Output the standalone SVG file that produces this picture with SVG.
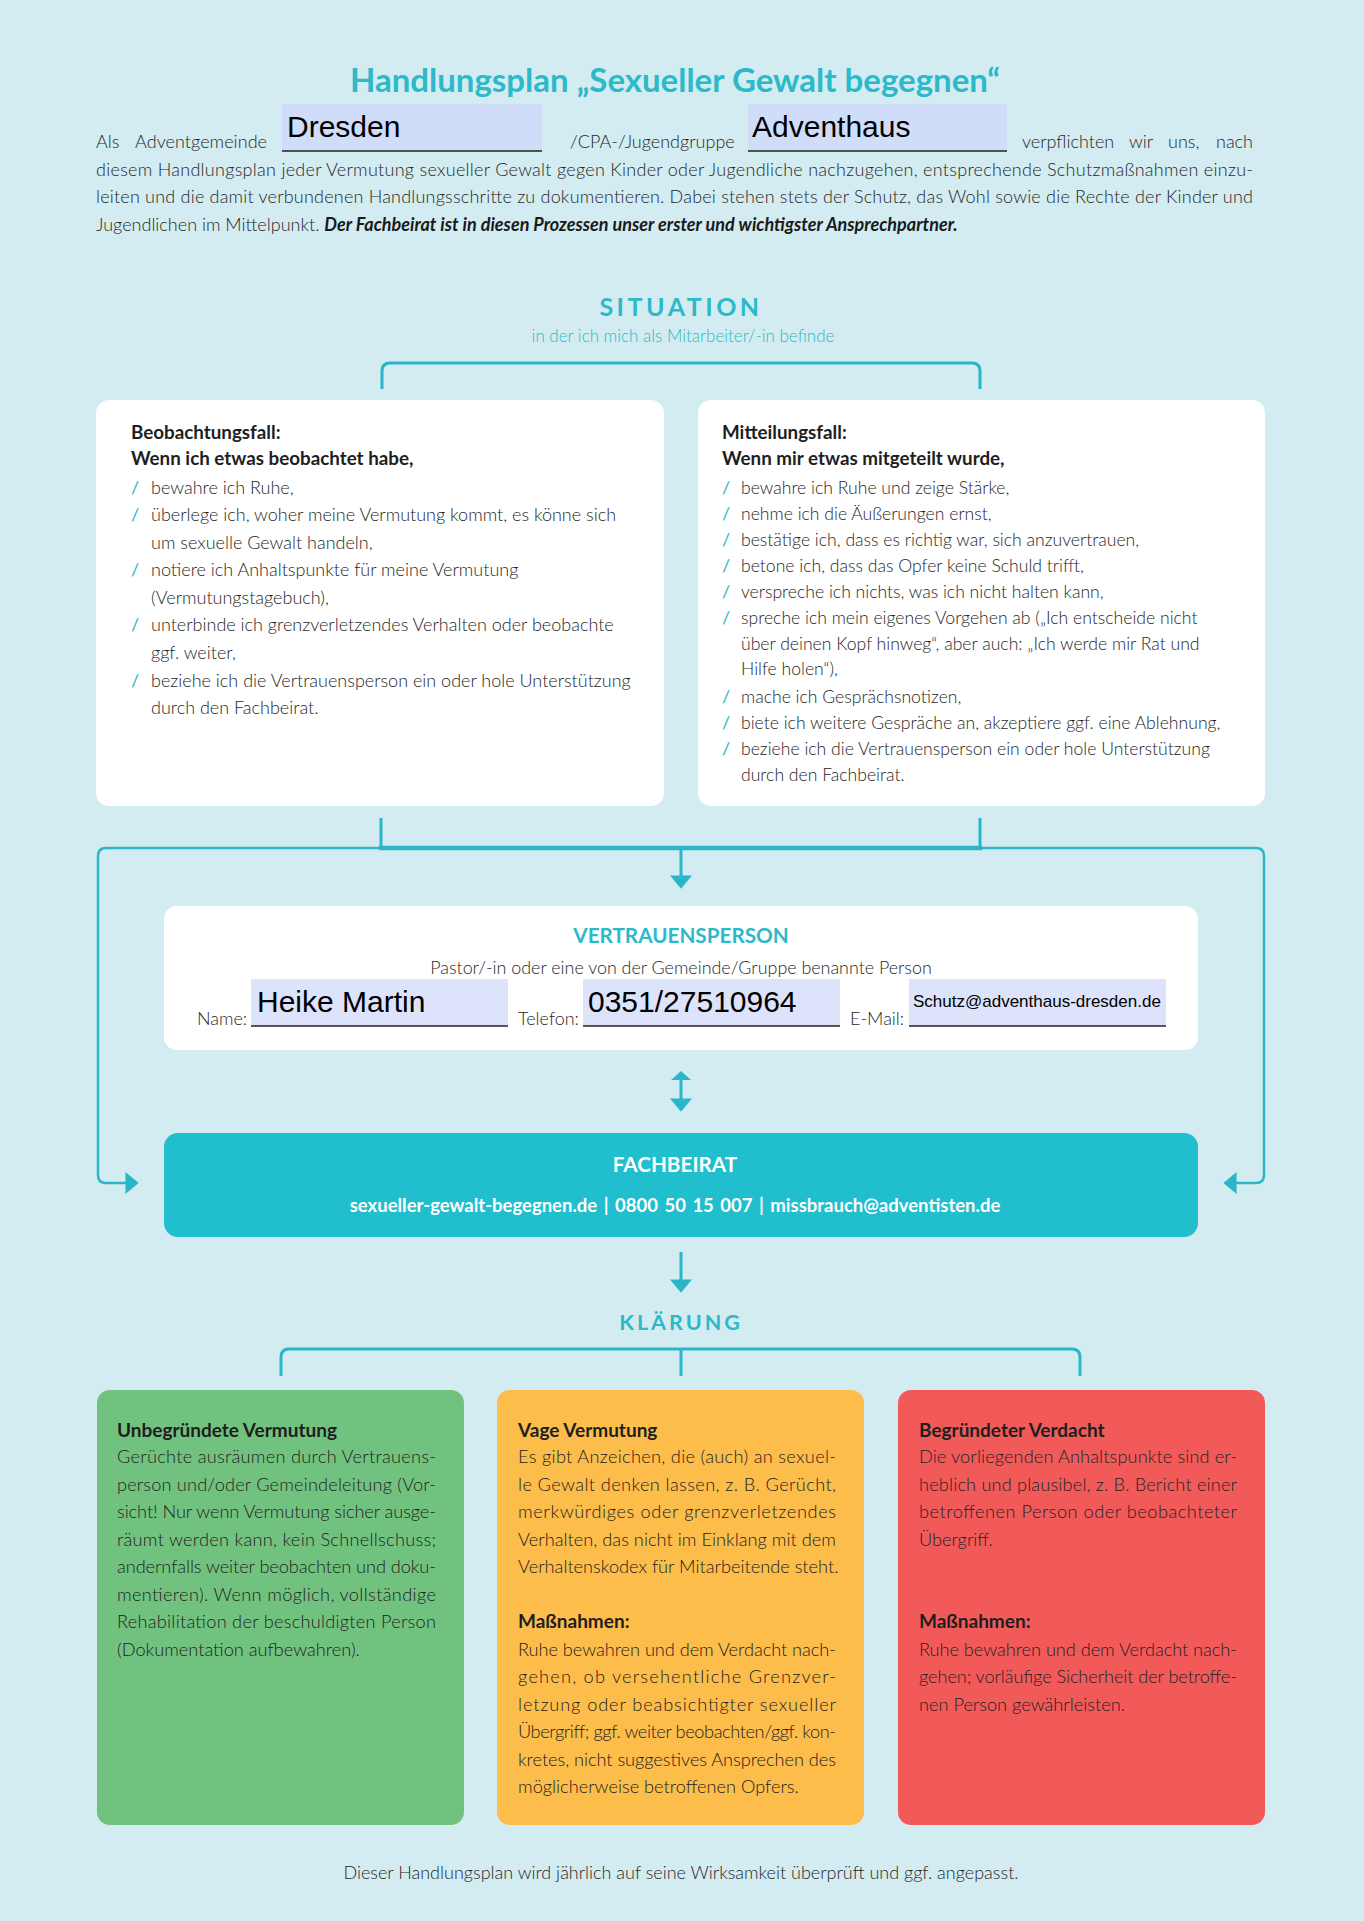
<svg xmlns="http://www.w3.org/2000/svg" width="1364" height="1921" viewBox="0 0 1364 1921">
<style>
.lato{font-family:Lato,"Open Sans","Liberation Sans",sans-serif}
.body{font-family:Lato,"Open Sans","Liberation Sans",sans-serif;font-weight:300;font-size:18px;fill:#262626}
.sbody{font-family:Lato,"Open Sans","Liberation Sans",sans-serif;font-weight:300;font-size:18px;fill:#262626}
.rbody{font-family:Lato,"Open Sans","Liberation Sans",sans-serif;font-weight:300;font-size:17.6px;fill:#262626}
.cbody{font-family:Lato,"Open Sans","Liberation Sans",sans-serif;font-weight:300;font-size:18.2px;fill:#222}
.head{font-family:Lato,"Open Sans","Liberation Sans",sans-serif;font-weight:700;font-size:18.8px;fill:#1e1e1e}
.chead{font-family:Lato,"Open Sans","Liberation Sans",sans-serif;font-weight:700;font-size:19px;fill:#1e1e1e}
.sl{font-family:Lato,"Open Sans","Liberation Sans",sans-serif;font-weight:400;font-size:18px;fill:#2ab6c8}
.field{fill:#cfddf8}
.field2{fill:#dce3fb}
.uline{stroke:#222;stroke-width:1.3}
.ftxt{font-family:"Liberation Sans",Arial,sans-serif;fill:#000}
.card{fill:#ffffff}
.lbl{font-family:Lato,"Open Sans","Liberation Sans",sans-serif;font-weight:300;font-size:18px;fill:#262626}
.conn{fill:none;stroke:#2ab6c8;stroke-width:3}
.thin{fill:none;stroke:#2ab6c8;stroke-width:2.5}
.thick{fill:none;stroke:#2ab6c8;stroke-width:4.5}
</style>
<defs>
<marker id="ah" markerUnits="userSpaceOnUse" markerWidth="14" markerHeight="22" viewBox="0 0 12 20" refX="0.5" refY="10" orient="auto">
<path d="M0,0 L12,10 L0,20 z" fill="#2ab6c8"/>
</marker>
</defs>
<rect x="0" y="0" width="1364" height="1921" fill="#d3ecf1"/>

<g id="title">
<text class="lato" x="675" y="92" text-anchor="middle" font-size="33" font-weight="700" fill="#2cb9c9">Handlungsplan „Sexueller Gewalt begegnen“</text>
</g>

<g id="intro">
<text class="body" x="96" y="148">Als</text>
<text class="body" x="135" y="148" textLength="132" lengthAdjust="spacing">Adventgemeinde</text>
<rect class="field" x="282" y="104" width="260" height="47"/>
<line class="uline" x1="282" y1="151" x2="542" y2="151"/>
<text class="ftxt" x="287" y="137" font-size="30">Dresden</text>
<text class="body" x="570" y="148">/CPA-/Jugendgruppe</text>
<rect class="field" x="748" y="104" width="259" height="47"/>
<line class="uline" x1="748" y1="151" x2="1007" y2="151"/>
<text class="ftxt" x="752" y="137" font-size="30">Adventhaus</text>
<text class="body" x="1022" y="148">verpflichten</text>
<text class="body" x="1129" y="148">wir</text>
<text class="body" x="1168" y="148">uns,</text>
<text class="body" x="1253" y="148" text-anchor="end">nach</text>
<text class="body" x="96" y="175.5" textLength="1157" lengthAdjust="spacing">diesem Handlungsplan jeder Vermutung sexueller Gewalt gegen Kinder oder Jugendliche nachzugehen, entsprechende Schutzmaßnahmen einzu-</text>
<text class="body" x="96" y="203" textLength="1157" lengthAdjust="spacing">leiten und die damit verbundenen Handlungsschritte zu dokumentieren. Dabei stehen stets der Schutz, das Wohl sowie die Rechte der Kinder und</text>
<text class="body" x="96" y="230.5">Jugendlichen im Mittelpunkt. <tspan font-weight="700" font-style="italic" fill="#1a1a1a">Der Fachbeirat ist in diesen Prozessen unser erster und wichtigster Ansprechpartner.</tspan></text>
</g>

<g id="situation-heading">
<text class="lato" x="681" y="316" text-anchor="middle" font-size="25" font-weight="700" letter-spacing="3.5" fill="#2cb9c9">SITUATION</text>
<text class="lato" x="683" y="342" text-anchor="middle" font-size="17" font-weight="300" fill="#2cb9c9">in der ich mich als Mitarbeiter/-in befinde</text>
</g>

<g id="node-beobachtungsfall">
<rect class="card" x="96" y="400" width="568" height="406" rx="13"/>
<text class="head" x="131" y="439">Beobachtungsfall:</text>
<text class="head" x="131" y="465">Wenn ich etwas beobachtet habe,</text>
<text class="sl" x="131" y="494">/</text><text class="sbody" x="151" y="494">bewahre ich Ruhe,</text>
<text class="sl" x="131" y="521">/</text><text class="sbody" x="151" y="521">überlege ich, woher meine Vermutung kommt, es könne sich</text>
<text class="sbody" x="151" y="549">um sexuelle Gewalt handeln,</text>
<text class="sl" x="131" y="576">/</text><text class="sbody" x="151" y="576">notiere ich Anhaltspunkte für meine Vermutung</text>
<text class="sbody" x="151" y="604">(Vermutungstagebuch),</text>
<text class="sl" x="131" y="631">/</text><text class="sbody" x="151" y="631">unterbinde ich grenzverletzendes Verhalten oder beobachte</text>
<text class="sbody" x="151" y="659">ggf. weiter,</text>
<text class="sl" x="131" y="687">/</text><text class="sbody" x="151" y="687">beziehe ich die Vertrauensperson ein oder hole Unterstützung</text>
<text class="sbody" x="151" y="714">durch den Fachbeirat.</text>
</g>

<g id="node-mitteilungsfall">
<rect class="card" x="698" y="400" width="567" height="406" rx="13"/>
<text class="head" x="722" y="439">Mitteilungsfall:</text>
<text class="head" x="722" y="465">Wenn mir etwas mitgeteilt wurde,</text>
<text class="sl" x="722" y="494">/</text><text class="rbody" x="741" y="494">bewahre ich Ruhe und zeige Stärke,</text>
<text class="sl" x="722" y="520">/</text><text class="rbody" x="741" y="520">nehme ich die Äußerungen ernst,</text>
<text class="sl" x="722" y="546">/</text><text class="rbody" x="741" y="546">bestätige ich, dass es richtig war, sich anzuvertrauen,</text>
<text class="sl" x="722" y="572">/</text><text class="rbody" x="741" y="572">betone ich, dass das Opfer keine Schuld trifft,</text>
<text class="sl" x="722" y="598">/</text><text class="rbody" x="741" y="598">verspreche ich nichts, was ich nicht halten kann,</text>
<text class="sl" x="722" y="624">/</text><text class="rbody" x="741" y="624">spreche ich mein eigenes Vorgehen ab („Ich entscheide nicht</text>
<text class="rbody" x="741" y="650">über deinen Kopf hinweg“, aber auch: „Ich werde mir Rat und</text>
<text class="rbody" x="741" y="675">Hilfe holen“),</text>
<text class="sl" x="722" y="703">/</text><text class="rbody" x="741" y="703">mache ich Gesprächsnotizen,</text>
<text class="sl" x="722" y="729">/</text><text class="rbody" x="741" y="729">biete ich weitere Gespräche an, akzeptiere ggf. eine Ablehnung,</text>
<text class="sl" x="722" y="755">/</text><text class="rbody" x="741" y="755">beziehe ich die Vertrauensperson ein oder hole Unterstützung</text>
<text class="rbody" x="741" y="781">durch den Fachbeirat.</text>
</g>

<g id="node-vertrauensperson">
<rect class="card" x="164" y="906" width="1034" height="144" rx="13"/>
<text class="lato" x="681" y="943" text-anchor="middle" font-size="20.7" font-weight="700" fill="#2cb9c9">VERTRAUENSPERSON</text>
<text class="lato" x="681" y="974" text-anchor="middle" font-size="17.9" font-weight="300" fill="#262626">Pastor/-in oder eine von der Gemeinde/Gruppe benannte Person</text>
<text class="lbl" x="197" y="1025">Name:</text>
<rect class="field2" x="251" y="979" width="257" height="47"/>
<line class="uline" x1="251" y1="1026" x2="508" y2="1026"/>
<text class="ftxt" x="257" y="1012" font-size="30">Heike Martin</text>
<text class="lbl" x="518" y="1025">Telefon:</text>
<rect class="field2" x="583" y="979" width="257" height="47"/>
<line class="uline" x1="583" y1="1026" x2="840" y2="1026"/>
<text class="ftxt" x="588" y="1012" font-size="30">0351/27510964</text>
<text class="lbl" x="850" y="1025">E-Mail:</text>
<rect class="field2" x="909" y="979" width="257" height="47"/>
<line class="uline" x1="909" y1="1026" x2="1166" y2="1026"/>
<text class="ftxt" x="913" y="1007" font-size="17">Schutz@adventhaus-dresden.de</text>
</g>

<g id="node-fachbeirat">
<rect x="164" y="1133" width="1034" height="104" rx="14" fill="#21bece"/>
<text class="lato" x="675" y="1172" text-anchor="middle" font-size="20.7" font-weight="700" fill="#ffffff">FACHBEIRAT</text>
<text class="lato" x="675" y="1212" text-anchor="middle" font-size="18.5" font-weight="700" word-spacing="2" fill="#ffffff">sexueller-gewalt-begegnen.de | 0800 50 15 007 | missbrauch@adventisten.de</text>
</g>

<g id="klaerung-heading">
<text class="lato" x="681" y="1330" text-anchor="middle" font-size="21.5" font-weight="700" letter-spacing="3" fill="#2cb9c9">KLÄRUNG</text>
</g>

<g id="node-unbegruendet">
<rect x="97" y="1390" width="367" height="435" rx="13" fill="#72c27f"/>
<text class="chead" x="117" y="1437">Unbegründete Vermutung</text>
<text class="cbody" x="117" y="1463" textLength="319" lengthAdjust="spacing">Gerüchte ausräumen durch Vertrauens-</text>
<text class="cbody" x="117" y="1490.5" textLength="319" lengthAdjust="spacing">person und/oder Gemeindeleitung (Vor-</text>
<text class="cbody" x="117" y="1518" textLength="319" lengthAdjust="spacing">sicht! Nur wenn Vermutung sicher ausge-</text>
<text class="cbody" x="117" y="1545.5" textLength="319" lengthAdjust="spacing">räumt werden kann, kein Schnellschuss;</text>
<text class="cbody" x="117" y="1573" textLength="319" lengthAdjust="spacing">andernfalls weiter beobachten und doku-</text>
<text class="cbody" x="117" y="1600.5" textLength="319" lengthAdjust="spacing">mentieren). Wenn möglich, vollständige</text>
<text class="cbody" x="117" y="1628" textLength="319" lengthAdjust="spacing">Rehabilitation der beschuldigten Person</text>
<text class="cbody" x="117" y="1655.5">(Dokumentation aufbewahren).</text>
</g>

<g id="node-vage">
<rect x="497" y="1390" width="367" height="435" rx="13" fill="#fdbd4a"/>
<text class="chead" x="518" y="1437">Vage Vermutung</text>
<text class="cbody" x="518" y="1463" textLength="318" lengthAdjust="spacing">Es gibt Anzeichen, die (auch) an sexuel-</text>
<text class="cbody" x="518" y="1490.5" textLength="318" lengthAdjust="spacing">le Gewalt denken lassen, z. B. Gerücht,</text>
<text class="cbody" x="518" y="1518" textLength="318" lengthAdjust="spacing">merkwürdiges oder grenzverletzendes</text>
<text class="cbody" x="518" y="1545.5" textLength="318" lengthAdjust="spacing">Verhalten, das nicht im Einklang mit dem</text>
<text class="cbody" x="518" y="1573">Verhaltenskodex für Mitarbeitende steht.</text>
<text class="chead" x="518" y="1628">Maßnahmen:</text>
<text class="cbody" x="518" y="1655.5" textLength="318" lengthAdjust="spacing">Ruhe bewahren und dem Verdacht nach-</text>
<text class="cbody" x="518" y="1683" textLength="318" lengthAdjust="spacing">gehen, ob versehentliche Grenzver-</text>
<text class="cbody" x="518" y="1710.5" textLength="318" lengthAdjust="spacing">letzung oder beabsichtigter sexueller</text>
<text class="cbody" x="518" y="1738" textLength="318" lengthAdjust="spacing">Übergriff; ggf. weiter beobachten/ggf. kon-</text>
<text class="cbody" x="518" y="1765.5" textLength="318" lengthAdjust="spacing">kretes, nicht suggestives Ansprechen des</text>
<text class="cbody" x="518" y="1793">möglicherweise betroffenen Opfers.</text>
</g>

<g id="node-begruendet">
<rect x="898" y="1390" width="367" height="435" rx="13" fill="#f25a5a"/>
<text class="chead" x="919" y="1437">Begründeter Verdacht</text>
<text class="cbody" x="919" y="1463" textLength="318" lengthAdjust="spacing">Die vorliegenden Anhaltspunkte sind er-</text>
<text class="cbody" x="919" y="1490.5" textLength="318" lengthAdjust="spacing">heblich und plausibel, z. B. Bericht einer</text>
<text class="cbody" x="919" y="1518" textLength="318" lengthAdjust="spacing">betroffenen Person oder beobachteter</text>
<text class="cbody" x="919" y="1545.5">Übergriff.</text>
<text class="chead" x="919" y="1628">Maßnahmen:</text>
<text class="cbody" x="919" y="1655.5" textLength="318" lengthAdjust="spacing">Ruhe bewahren und dem Verdacht nach-</text>
<text class="cbody" x="919" y="1683" textLength="318" lengthAdjust="spacing">gehen; vorläufige Sicherheit der betroffe-</text>
<text class="cbody" x="919" y="1710.5">nen Person gewährleisten.</text>
</g>

<g id="footer">
<text class="lato" x="681" y="1879" text-anchor="middle" font-size="18" font-weight="300" fill="#262626">Dieser Handlungsplan wird jährlich auf seine Wirksamkeit überprüft und ggf. angepasst.</text>
</g>

<g id="connectors">
<path class="conn" d="M382,389 V371 Q382,363 390,363 H972 Q980,363 980,371 V389"/>
<line class="conn" x1="381" y1="818" x2="381" y2="848"/>
<line class="conn" x1="980" y1="818" x2="980" y2="848"/>
<line class="thick" x1="379" y1="848" x2="982" y2="848"/>
<path class="thin" d="M381,848 H106 Q98,848 98,856 V1175 Q98,1183 106,1183 H126" marker-end="url(#ah)"/>
<path class="thin" d="M980,848 H1256 Q1264,848 1264,856 V1175 Q1264,1183 1256,1183 H1236" marker-end="url(#ah)"/>
<line class="conn" x1="681" y1="848" x2="681" y2="876" marker-end="url(#ah)"/>
<line class="conn" x1="681" y1="1080" x2="681" y2="1099" marker-end="url(#ah)"/>
<path d="M671,1080 L681,1071 L691,1080 z" fill="#2ab6c8"/>
<line class="conn" x1="681" y1="1252" x2="681" y2="1280" marker-end="url(#ah)"/>
<path class="conn" d="M281,1376 V1357 Q281,1349 289,1349 H1072 Q1080,1349 1080,1357 V1376"/>
<line class="conn" x1="681" y1="1349" x2="681" y2="1376"/>
</g>
</svg>
